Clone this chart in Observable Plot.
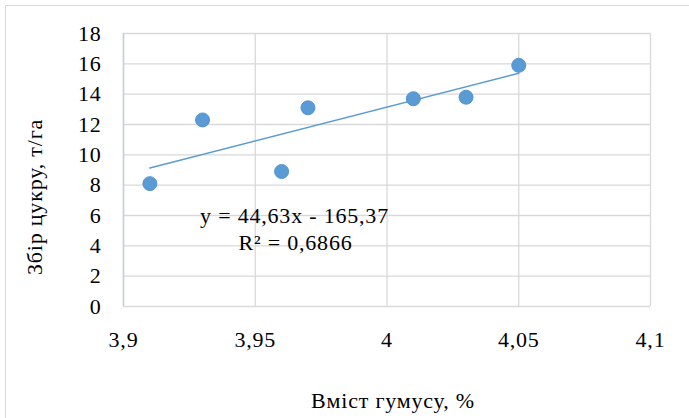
<!DOCTYPE html>
<html><head><meta charset="utf-8">
<script src="https://cdn.jsdelivr.net/npm/d3@7"></script>
<script src="https://cdn.jsdelivr.net/npm/@observablehq/plot@0.6"></script>
<style>
body{margin:0;background:#fff;}
#wrap{position:relative;width:689px;height:418px;overflow:hidden;background:#fff;}
#border{position:absolute;left:5px;top:5px;width:720px;height:440px;border:1px solid #d9d9d9;box-sizing:border-box;}
#chart{position:absolute;left:0;top:0;}
#chart svg, #chart svg text{font-family:'Liberation Serif', serif !important;font-size:22px !important;letter-spacing:0.8px;}
</style></head><body><div id="wrap"><div id="border"></div><div id="chart"></div></div>
<script>
const xValues = [3.91, 3.93, 3.96, 3.97, 4.01, 4.03, 4.05];
const yValues = [8.1, 12.3, 8.9, 13.1, 13.7, 13.8, 15.9];
const xTicks = [3.9, 3.95, 4, 4.05, 4.1];
const xTickLabels = ["3,9", "3,95", "4", "4,05", "4,1"];
const yTicks = [0, 2, 4, 6, 8, 10, 12, 14, 16, 18];
const xTitle = "Вміст гумусу, %";
const yTitle = "Збір цукру, т/га";

const data = xValues.map((x, i) => ({x, y: yValues[i]}));
const mx = d3.mean(xValues), my = d3.mean(yValues);
const sxx = d3.sum(xValues, x => (x - mx) ** 2);
const sxy = d3.sum(data, d => (d.x - mx) * (d.y - my));
const syy = d3.sum(yValues, y => (y - my) ** 2);
const slope = sxy / sxx, intercept = my - slope * mx;
const r2 = (sxy * sxy) / (sxx * syy);
const fmt = (v, k) => v.toFixed(k).replace(".", ",");
const eqText = `y = ${fmt(slope, 2)}x ${intercept < 0 ? "-" : "+"} ${fmt(Math.abs(intercept), 2)}`;
const r2Text = `R² = ${fmt(r2, 4)}`;

const blue = "#5B9BD5";
const grid = "#d9d9d9";

const chart = Plot.plot({
  width: 689, height: 418,
  marginLeft: 123, marginRight: 39, marginTop: 33, marginBottom: 112,
  style: {fontFamily: "'Liberation Serif', serif", fontSize: "22px", color: "#000", background: "transparent", overflow: "visible"},
  x: {domain: [3.9, 4.1]},
  y: {domain: [0, 18]},
  marks: [
    Plot.gridY(yTicks, {stroke: grid, strokeOpacity: 1, strokeWidth: 1.3}),
    Plot.gridX(xTicks, {stroke: grid, strokeOpacity: 1, strokeWidth: 1.3}),
    Plot.ruleX([3.9], {stroke: "#c3cddd", strokeWidth: 1.5}),
    Plot.axisX(xTicks, {tickSize: 0, tickPadding: 25, tickFormat: d => xTickLabels[xTicks.indexOf(d)], label: null, fill: "#000"}),
    Plot.axisY(yTicks, {tickSize: 0, tickPadding: 22, label: null, fill: "#000"}),
    Plot.linearRegressionY(data, {x: "x", y: "y", ci: 0, stroke: blue, strokeWidth: 1.6}),
    Plot.dot(data, {x: "x", y: "y", r: 7, fill: blue, stroke: "#5594cf", strokeWidth: 1}),
    Plot.text([eqText], {frameAnchor: "top-left", dx: 171, dy: 182, textAnchor: "middle", lineAnchor: "middle", fill: "#000"}),
    Plot.text([r2Text], {frameAnchor: "top-left", dx: 172, dy: 209, textAnchor: "middle", lineAnchor: "middle", fill: "#000"}),
    Plot.text([yTitle], {frameAnchor: "left", dx: -89, dy: 27, rotate: -90, textAnchor: "middle", lineAnchor: "middle", fill: "#000"}),
    Plot.text([xTitle], {frameAnchor: "bottom", dx: 6, dy: 94, textAnchor: "middle", lineAnchor: "middle", fill: "#000"})
  ]
});
document.getElementById("chart").appendChild(chart);
</script></body></html>
